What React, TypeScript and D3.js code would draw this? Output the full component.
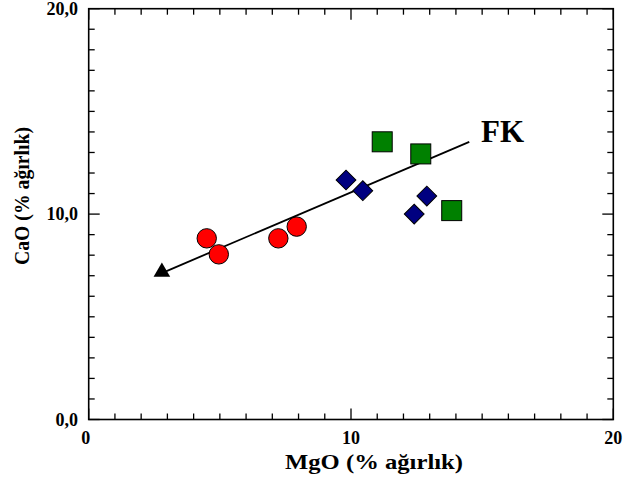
import React from "react";
import * as d3 from "d3";

const circlesX = [4.5, 4.96, 7.23, 7.93];
const circlesY = [8.82, 8.04, 8.82, 9.39];
const diamondsX = [9.81, 10.45, 12.89, 12.41];
const diamondsY = [11.66, 11.14, 10.88, 10.0];
const squaresX = [11.19, 12.66, 13.84];
const squaresY = [13.52, 12.93, 10.17];
const trendX = [2.79, 14.51];
const trendY = [7.13, 13.52];
const xTickLabels = ["0", "10", "20"];
const yTickLabels = ["0,0", "10,0", "20,0"];
const majorTicks = [0, 10, 20];
const minorTicks = d3.range(0, 21);

const W = 624;
const H = 483;
const L = 88.7, R = 613.3, T = 8.7, B = 419.5;
const FONT = "'Liberation Serif', 'Times New Roman', serif";

export default function App() {
  const x = d3.scaleLinear().domain([0, 20]).range([L, R]);
  const y = d3.scaleLinear().domain([0, 20]).range([B, T]);
  const line = d3.line<number>().x((_, i) => x(trendX[i])).y((_, i) => y(trendY[i]));
  const tri = d3.symbol().type(d3.symbolTriangle).size(120)();
  const minorLen = 6, majorLen = 11;
  return (
    <svg width={W} height={H} style={{ position: "absolute", left: 0, top: 0 }}>
      <rect x={0} y={0} width={W} height={H} fill="#fff" />
      {minorTicks.map((t) => {
        const len = majorTicks.includes(t) ? majorLen : minorLen;
        return (
          <g key={"t" + t} stroke="#000" strokeWidth={1.3}>
            <line x1={x(t)} x2={x(t)} y1={B} y2={B - len} />
            <line x1={x(t)} x2={x(t)} y1={T} y2={T + len} />
            <line x1={L} x2={L + len} y1={y(t)} y2={y(t)} />
            <line x1={R} x2={R - len} y1={y(t)} y2={y(t)} />
          </g>
        );
      })}
      <rect x={L} y={T} width={R - L} height={B - T} fill="none" stroke="#000" strokeWidth={1.6} />
      {majorTicks.map((t, i) => (
        <text key={"xl" + t} x={x(t) - (t === 0 ? 3 : 0)} y={444} textAnchor="middle" fontFamily={FONT} fontWeight="bold" fontSize={18}>
          {xTickLabels[i]}
        </text>
      ))}
      {majorTicks.map((t, i) => (
        <text key={"yl" + t} x={78} y={y(t) + 6} textAnchor="end" fontFamily={FONT} fontWeight="bold" fontSize={18}>
          {yTickLabels[i]}
        </text>
      ))}
      <text x={374} y={469} textAnchor="middle" fontFamily={FONT} fontWeight="bold" fontSize={22} textLength={178} lengthAdjust="spacingAndGlyphs">
        MgO (% ağırlık)
      </text>
      <text transform={`translate(29,196) rotate(-90)`} textAnchor="middle" fontFamily={FONT} fontWeight="bold" fontSize={20} textLength={138} lengthAdjust="spacingAndGlyphs">
        CaO (% ağırlık)
      </text>
      <path d={line([0, 1]) || ""} stroke="#000" strokeWidth={1.8} fill="none" />
      <path d={tri || ""} transform={`translate(${x(trendX[0])},${y(trendY[0]) - 1})`} fill="#000" />
      <text x={481} y={142} fontFamily={FONT} fontWeight="bold" fontSize={31}>FK</text>
      {circlesX.map((v, i) => (
        <circle key={"c" + i} cx={x(v)} cy={y(circlesY[i])} r={9.7} fill="#ff0000" stroke="#000" strokeWidth={1} />
      ))}
      {diamondsX.map((v, i) => (
        <rect key={"d" + i} x={-7} y={-7} width={14} height={14} transform={`translate(${x(v)},${y(diamondsY[i])}) rotate(45)`} fill="#000080" stroke="#000" strokeWidth={1} />
      ))}
      {squaresX.map((v, i) => (
        <rect key={"s" + i} x={x(v) - 10} y={y(squaresY[i]) - 10} width={20} height={20} fill="#008000" stroke="#000" strokeWidth={1} />
      ))}
    </svg>
  );
}
